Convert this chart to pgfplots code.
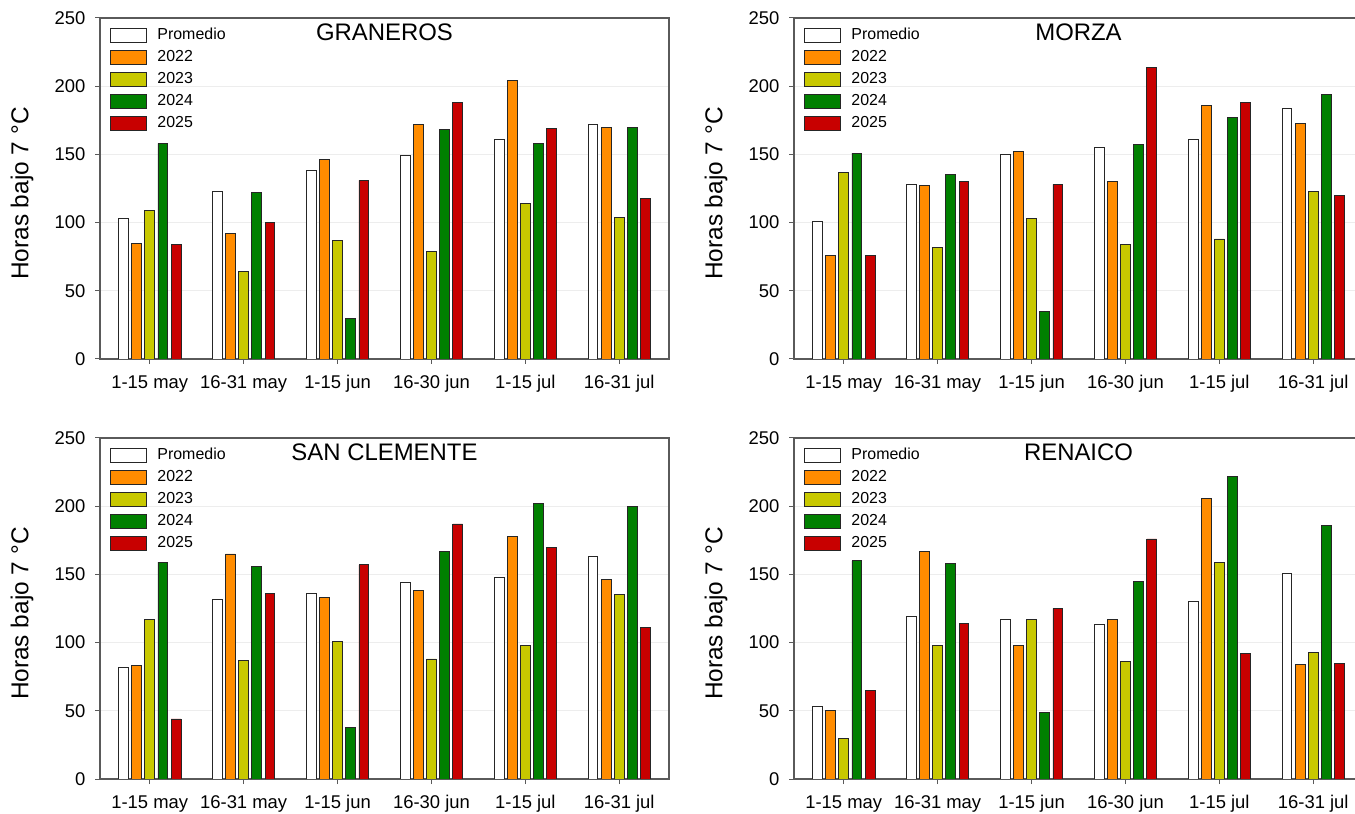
\documentclass[border=0pt]{standalone}
\usepackage{fontspec}
\setmainfont{Liberation Sans}
\usepackage{pgfplots}
\usepackage{pgfplotstable}
\pgfplotsset{compat=1.18}
\definecolor{c22}{RGB}{255,140,0}
\definecolor{c23}{RGB}{200,200,0}
\definecolor{c24}{RGB}{0,128,0}
\definecolor{c25}{RGB}{200,0,0}
\definecolor{axgray}{RGB}{90,90,90}

\pgfplotstableread{
x prom y22 y23 y24 y25
0 103 85 109 158 84
1 123 92 64 122 100
2 138 146 87 30 131
3 149 172 79 168 188
4 161 204 114 158 169
5 172 170 104 170 118
}\graneros
\pgfplotstableread{
x prom y22 y23 y24 y25
0 101 76 137 151 76
1 128 127 82 135 130
2 150 152 103 35 128
3 155 130 84 157 214
4 161 186 88 177 188
5 184 173 123 194 120
}\morza
\pgfplotstableread{
x prom y22 y23 y24 y25
0 82 83 117 159 44
1 132 165 87 156 136
2 136 133 101 38 157
3 144 138 88 167 187
4 148 178 98 202 170
5 163 146 135 200 111
}\sanclemente
\pgfplotstableread{
x prom y22 y23 y24 y25
0 53 50 30 160 65
1 119 167 98 158 114
2 117 98 117 49 125
3 113 117 86 145 176
4 130 206 159 222 92
5 151 84 93 186 85
}\renaico

\pgfplotsset{
 panel/.style={
  width=569bp, height=341bp, scale only axis,
  anchor=south west,
  xmin=-0.53, xmax=5.53, ymin=0, ymax=250,
  xtick={0,...,5},
  xticklabels={1-15 may,16-31 may,1-15 jun,16-30 jun,1-15 jul,16-31 jul},
  ytick={0,50,...,250},
  tick align=outside, xtick pos=bottom, ytick pos=left,
  major tick length=5bp,
  axis line style={axgray, line width=1.2bp},
  tick style={axgray, line width=1bp},
  ymajorgrids, grid style={black!7, line width=0.8bp},
  ticklabel style={font=\fontsize{18.5}{20}\selectfont},
  xticklabel style={yshift=-8bp},
  yticklabel style={xshift=-6bp},
  /pgf/number format/assume math mode=true,
  ylabel={Horas bajo 7 °C},
  ylabel style={font=\fontsize{24.5}{26}\selectfont, at={(axis description cs:-0.137,0.485)}, anchor=center},
  title style={font=\fontsize{24}{26}\selectfont, at={(axis description cs:0.5,1)}, anchor=north, inner sep=0pt, yshift=-12bp},
  legend style={at={(axis description cs:0.018,0.972)}, anchor=north west, draw=none, fill=none,
    font=\fontsize{16}{18}\selectfont, inner sep=0pt, row sep=7bp,
    nodes={inner sep=0pt, text height=11bp, text depth=3bp},
    /tikz/every odd column/.append style={column sep=10bp}},
  legend cell align=left,
  legend image code/.code={\draw[#1, line width=1bp] (0bp,-7bp) rectangle (36bp,7bp);},
 },
 bar/.style={ybar, bar width=0.105, draw=black!85, line width=0.8bp},
}

\newcommand{\panel}[1]{%
  \addplot[bar, fill=white, bar shift=-0.28] table[x=x,y=prom] {#1};
  \addplot[bar, fill=c22, bar shift=-0.14] table[x=x,y=y22] {#1};
  \addplot[bar, fill=c23, bar shift=0] table[x=x,y=y23] {#1};
  \addplot[bar, fill=c24, bar shift=0.14] table[x=x,y=y24] {#1};
  \addplot[bar, fill=c25, bar shift=0.28] table[x=x,y=y25] {#1};
  \legend{Promedio,2022,2023,2024,2025}
}

\begin{document}
\begin{tikzpicture}
\useasboundingbox (0,0) rectangle (1355bp,814bp);
\begin{axis}[panel, at={(100bp,455bp)}, title={GRANEROS}]
\panel{\graneros}
\end{axis}
\begin{axis}[panel, at={(794bp,455bp)}, title={MORZA}]
\panel{\morza}
\end{axis}
\begin{axis}[panel, at={(100bp,35bp)}, title={SAN CLEMENTE}]
\panel{\sanclemente}
\end{axis}
\begin{axis}[panel, at={(794bp,35bp)}, title={RENAICO}]
\panel{\renaico}
\end{axis}
\end{tikzpicture}
\end{document}
